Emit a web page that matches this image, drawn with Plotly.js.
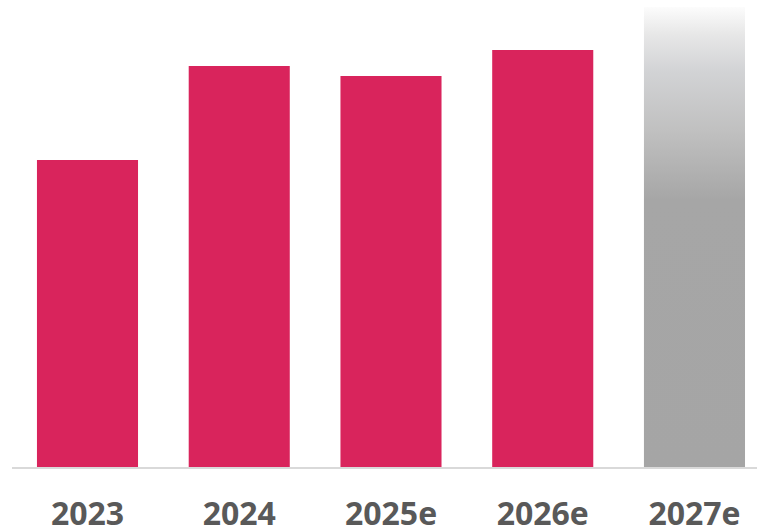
<!DOCTYPE html>
<html>
<head>
<meta charset="utf-8">
<script src="https://cdn.plot.ly/plotly-3.0.1.min.js"></script>
<style>
  html, body { margin: 0; padding: 0; background: #ffffff; }
  #chart { width: 757px; height: 529px; }
</style>
</head>
<body>
<div id="chart"></div>
<script>
// Yearly values; the last year is a forecast drawn with a fading fill
const years = ['2023', '2024', '2025e', '2026e', '2027e'];
const values = [30.7, 40.1, 39.1, 41.7, 46.0];
const solidCount = 4;

const barColor = '#d9245c';
const barWidth = 0.666;

const positions = years.map((_, i) => i);

const solidBars = {
  type: 'bar',
  x: positions.slice(0, solidCount),
  y: values.slice(0, solidCount),
  width: barWidth,
  marker: { color: barColor, line: { width: 0 } },
  hoverinfo: 'skip'
};

// Forecast bar as a filled outline so the fill can fade toward the top
const fx = positions[solidCount];
const fv = values[solidCount];
const forecastBar = {
  type: 'scatter',
  mode: 'lines',
  x: [fx - barWidth / 2, fx - barWidth / 2, fx + barWidth / 2, fx + barWidth / 2, fx - barWidth / 2],
  y: [0, fv, fv, 0, 0],
  fill: 'toself',
  line: { width: 0, color: 'rgba(0,0,0,0)' },
  fillgradient: {
    type: 'vertical',
    start: 0,
    stop: fv,
    colorscale: [
      [0, '#a5a5a5'],
      [0.58, '#a6a6a6'],
      [0.73, '#c0c0c0'],
      [0.86, '#d2d3d5'],
      [0.94, '#e7e7e7'],
      [1, '#fcfcfc']
    ]
  },
  hoverinfo: 'skip'
};

const layout = {
  width: 757,
  height: 529,
  margin: { l: 12, r: 0, t: 0, b: 62 },
  paper_bgcolor: '#ffffff',
  plot_bgcolor: '#ffffff',
  showlegend: false,
  xaxis: {
    type: 'linear',
    range: [-0.4975, 4.412],
    tickvals: positions,
    ticktext: years,
    showgrid: false,
    zeroline: false,
    showline: true,
    linecolor: '#d9d9d9',
    linewidth: 2,
    ticks: '',
    ticklabelstandoff: 18,
    tickfont: { family: 'Open Sans, sans-serif', size: 32, color: '#595959', weight: 700 }
  },
  yaxis: {
    range: [0, 46.7],
    showgrid: false,
    zeroline: false,
    showline: false,
    showticklabels: false,
    ticks: ''
  }
};

Plotly.newPlot('chart', [solidBars, forecastBar], layout, { displayModeBar: false, staticPlot: true });
</script>
</body>
</html>
